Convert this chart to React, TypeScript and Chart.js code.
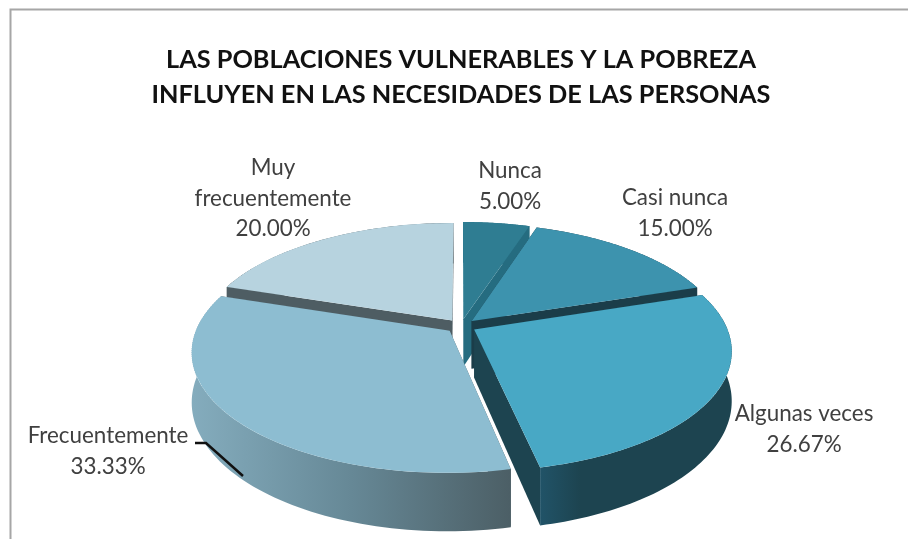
import React, { useEffect, useRef } from "react";
import { Chart, registerables } from "chart.js";

Chart.register(...registerables);

const titleLines = [
  "LAS POBLACIONES VULNERABLES Y LA POBREZA",
  "INFLUYEN EN LAS NECESIDADES DE LAS PERSONAS",
];
const categories = ["Nunca", "Casi nunca", "Algunas veces", "Frecuentemente", "Muy frecuentemente"];
const values = [5, 15, 26.67, 33.33, 20];
const topColors = ["#2f7d92", "#3d93ae", "#48a8c5", "#8dbdd1", "#b7d3df"];
const sideColors = ["#256c80", "#1b3d49", "#1d4450", "#4e5d63", "#4e5d63"];
const labelWraps = [["Nunca"], ["Casi nunca"], ["Algunas veces"], ["Frecuentemente"], ["Muy", "frecuentemente"]];

// Layout only
const labelAnchors = [
  { x: 510, y: 171 },
  { x: 675, y: 198 },
  { x: 804, y: 414 },
  { x: 108, y: 436 },
  { x: 273, y: 168 },
];
const drawOrder = [0, 4, 1, 3, 2];
const EXPLODE = 0.06;
const CX = 461, CY = 326, SX = 252, AY = 116, PERSP = 0.1715, DEPTH = 48;
const FONT = "Lato";

const project = (ux: number, uy: number) => {
  const w = 1 - PERSP * uy;
  return { x: CX + (SX * ux) / w, y: CY + (AY * uy) / w, d: DEPTH / w };
};

const pie3d = {
  id: "pie3d",
  beforeDraw(chart: any) {
    const ctx = chart.ctx;
    ctx.save();
    ctx.fillStyle = "#fff";
    ctx.fillRect(0, 0, chart.width, chart.height);
    ctx.strokeStyle = "#a6a6a6";
    ctx.lineWidth = 2;
    ctx.beginPath();
    ctx.moveTo(10.5, chart.height);
    ctx.lineTo(10.5, 9.5);
    ctx.lineTo(chart.width, 9.5);
    ctx.stroke();
    ctx.restore();
  },
  beforeDatasetsDraw(chart: any) {
    const ctx = chart.ctx;
    const arcs = chart.getDatasetMeta(0).data;
    for (const i of drawOrder) {
      const a = arcs[i];
      const R = a.outerRadius;
      const mid = (a.startAngle + a.endAngle) / 2;
      const ex = Math.cos(mid) * EXPLODE;
      const ey = Math.sin(mid) * EXPLODE;

      // cut faces
      const apex = project(ex, ey);
      ctx.fillStyle = sideColors[i];
      for (const ang of [a.startAngle, a.endAngle]) {
        const p = project(Math.cos(ang) + ex, Math.sin(ang) + ey);
        ctx.beginPath();
        ctx.moveTo(apex.x, apex.y);
        ctx.lineTo(p.x, p.y);
        ctx.lineTo(p.x, p.y + p.d);
        ctx.lineTo(apex.x, apex.y + apex.d);
        ctx.closePath();
        ctx.fill();
      }

      // outer wall
      const N = 80;
      const top: any[] = [];
      for (let k = 0; k <= N; k++) {
        const t = a.startAngle + ((a.endAngle - a.startAngle) * k) / N;
        top.push(project(Math.cos(t) + ex, Math.sin(t) + ey));
      }
      let fill: any = sideColors[i];
      if (i === 3) {
        fill = ctx.createLinearGradient(193, 0, 510, 0);
        fill.addColorStop(0, "#84acbd");
        fill.addColorStop(0.5, "#668896");
        fill.addColorStop(1, "#4c5f66");
      } else if (i === 2) {
        fill = ctx.createLinearGradient(538, 0, 580, 0);
        fill.addColorStop(0, "#215469");
        fill.addColorStop(1, "#1d4450");
      }
      ctx.fillStyle = fill;
      ctx.beginPath();
      top.forEach((p, k) => (k ? ctx.lineTo(p.x, p.y) : ctx.moveTo(p.x, p.y)));
      for (let k = N; k >= 0; k--) ctx.lineTo(top[k].x, top[k].y + top[k].d);
      ctx.closePath();
      ctx.fill();

      // top face: the library's arc, drawn in thin bands for perspective
      const step = 2;
      for (let s = 200; s < 500; s += step) {
        const t1 = s - CY, t2 = s + step - CY;
        const v1 = t1 / (AY + PERSP * t1);
        const v2 = t2 / (AY + PERSP * t2);
        const vm = (v1 + v2) / 2;
        const sy = step / ((v2 - v1) * R);
        const sx = SX / (R * (1 - PERSP * vm));
        const y1 = a.y + v1 * R;
        ctx.save();
        ctx.beginPath();
        ctx.rect(0, s, chart.width, step);
        ctx.clip();
        ctx.transform(sx, 0, 0, sy, CX - (a.x - ex * R) * sx, s + (ey * R - y1) * sy);
        a.draw(ctx);
        ctx.restore();
      }
    }
    return false;
  },
  afterDraw(chart: any) {
    const ctx = chart.ctx;
    ctx.save();
    // leader line
    ctx.strokeStyle = "#111";
    ctx.lineWidth = 2.5;
    ctx.beginPath();
    ctx.moveTo(195, 443);
    ctx.lineTo(206, 443);
    ctx.lineTo(243, 476);
    ctx.stroke();
    // data labels
    ctx.fillStyle = "#404040";
    ctx.font = `22.4px ${FONT}`;
    ctx.textAlign = "center";
    ctx.textBaseline = "middle";
    categories.forEach((_, i) => {
      const lines = [...labelWraps[i], values[i].toFixed(2) + "%"];
      lines.forEach((l, k) => ctx.fillText(l, labelAnchors[i].x, labelAnchors[i].y + k * 30.5));
    });
    ctx.restore();
  },
};

export default function App() {
  const ref = useRef<HTMLCanvasElement>(null);
  useEffect(() => {
    const chart = new Chart(ref.current as HTMLCanvasElement, {
      type: "pie",
      data: {
        labels: categories,
        datasets: [{ data: values, backgroundColor: topColors, borderWidth: 0 }],
      },
      options: {
        responsive: false,
        animation: false,
        events: [],
        layout: { padding: { left: 14 } },
        plugins: {
          legend: { display: false },
          tooltip: { enabled: false },
          title: {
            display: true,
            text: titleLines,
            color: "#111",
            font: { family: FONT, size: 25.3, weight: "bold", lineHeight: 1.38 },
            padding: { top: 42, bottom: 0 },
          },
        },
      },
      plugins: [pie3d],
    } as any);
    return () => chart.destroy();
  }, []);
  return (
    <canvas
      ref={ref}
      width={908}
      height={539}
      style={{ position: "fixed", left: 0, top: 0, width: 908, height: 539, display: "block", filter: "blur(0.6px)" }}
    />
  );
}
